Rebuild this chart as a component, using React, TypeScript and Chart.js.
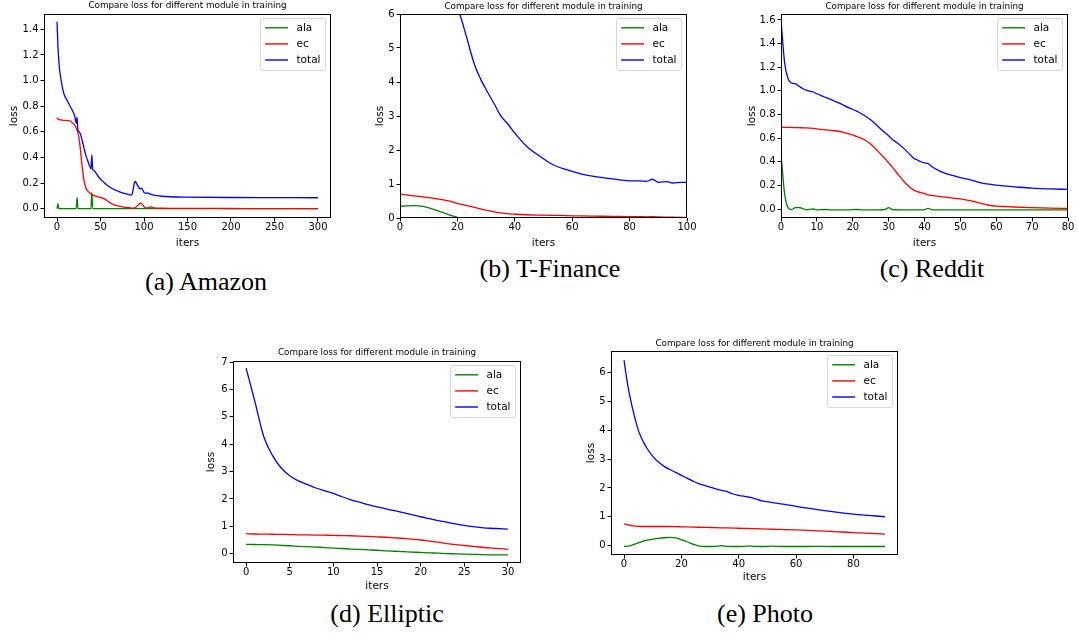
import React, { useEffect, useRef } from 'react';
import { Chart, registerables } from 'chart.js';

Chart.register(...registerables);
Chart.defaults.font.family = "'DejaVu Sans', sans-serif";
Chart.defaults.color = '#000';

// ---------- shared text ----------
const seriesNames = ['ala', 'ec', 'total'];
const seriesColors = ['#008000', '#ff0000', '#0000ff'];
const chartTitle = 'Compare loss for different module in training';
const xAxisLabel = 'iters';
const yAxisLabel = 'loss';
const captions = ['(a) Amazon', '(b) T-Finance', '(c) Reddit', '(d) Elliptic', '(e) Photo'];

// ---------- (a) Amazon ----------
const amazonIters = [0, 1, 2, 3, 5, 8, 12, 15, 17, 20, 21, 22, 23, 24, 25, 27, 29, 31, 33, 35, 37, 38, 39, 40, 41, 42, 44, 47, 50, 54, 58, 62, 66, 70, 75, 80, 85, 87, 88, 89, 90, 92, 94, 96, 97, 99, 100, 102, 104, 106, 108, 110, 115, 120, 130, 150, 200, 250, 300];
const amazonAla = [0, 0.04, 0, 0, 0, 0, 0, 0, 0, 0, 0, 0, 0.087, 0, 0, 0, 0, 0, 0, 0, 0, 0, 0, 0.126, 0, 0, 0, 0, 0, 0, 0, 0, 0, 0, 0, 0, 0, 0, 0, 0, 0, 0, 0, 0, 0, 0, 0, 0, 0, 0, 0, 0, 0, 0, 0, 0, 0, 0, 0];
const amazonEc = [0.71, 0.70, 0.695, 0.695, 0.693, 0.69, 0.688, 0.685, 0.675, 0.655, 0.645, 0.63, 0.615, 0.59, 0.56, 0.455, 0.32, 0.22, 0.165, 0.14, 0.125, 0.12, 0.115, 0.11, 0.106, 0.103, 0.098, 0.092, 0.087, 0.078, 0.06, 0.042, 0.03, 0.022, 0.014, 0.009, 0.005, 0.004, 0.004, 0.005, 0.008, 0.02, 0.035, 0.042, 0.04, 0.025, 0.015, 0.006, 0.005, 0.008, 0.016, 0.008, 0.004, 0.003, 0.002, 0.002, 0.001, 0, 0];
const amazonTotal = [1.46, 1.27, 1.16, 1.08, 0.99, 0.895, 0.84, 0.80, 0.775, 0.73, 0.70, 0.665, 0.715, 0.615, 0.605, 0.58, 0.53, 0.475, 0.42, 0.38, 0.34, 0.325, 0.31, 0.42, 0.305, 0.30, 0.285, 0.255, 0.23, 0.205, 0.18, 0.163, 0.148, 0.137, 0.124, 0.115, 0.106, 0.13, 0.17, 0.20, 0.212, 0.19, 0.165, 0.155, 0.16, 0.14, 0.127, 0.12, 0.123, 0.117, 0.112, 0.108, 0.101, 0.097, 0.093, 0.09, 0.087, 0.086, 0.085];
const amazonXTicks = [0, 50, 100, 150, 200, 250, 300];
const amazonYTicks = [0, 0.2, 0.4, 0.6, 0.8, 1.0, 1.2, 1.4];

// ---------- (b) T-Finance ----------
const tfinIters = [0, 2, 5, 8, 10, 13, 16, 18, 20, 21, 23, 26, 28, 30, 33, 35, 38, 40, 44, 49, 53, 58, 63, 67, 74, 79, 84, 86, 88, 90, 93, 95, 98, 100];
const tfinAla = [0.34, 0.355, 0.365, 0.345, 0.30, 0.22, 0.13, 0.07, 0.02, 0.005, 0, 0, 0, 0.01, 0.004, 0, 0, 0, 0, 0, 0, 0, 0, 0, 0, 0, 0, 0, 0, 0, 0, 0, 0, 0];
const tfinEc = [0.70, 0.68, 0.65, 0.62, 0.60, 0.56, 0.52, 0.48, 0.43, 0.41, 0.37, 0.31, 0.27, 0.23, 0.18, 0.15, 0.12, 0.11, 0.095, 0.085, 0.078, 0.07, 0.06, 0.055, 0.048, 0.042, 0.037, 0.035, 0.038, 0.03, 0.025, 0.022, 0.02, 0.02];
const tfinTotal = [14.0, 12.6, 10.9, 9.5, 8.7, 7.7, 6.95, 6.5, 6.15, 5.95, 5.38, 4.5, 4.1, 3.78, 3.33, 3.02, 2.72, 2.5, 2.12, 1.8, 1.58, 1.42, 1.3, 1.23, 1.15, 1.1, 1.09, 1.08, 1.14, 1.05, 1.07, 1.03, 1.05, 1.05];
const tfinXTicks = [0, 20, 40, 60, 80, 100];
const tfinYTicks = [0, 1, 2, 3, 4, 5, 6];

// ---------- (c) Reddit ----------
const redditIters = [0, 1, 2, 3, 4, 5, 6, 7, 9, 10, 12, 14, 17, 19, 21, 23, 25, 27, 29, 30, 31, 33, 35, 37, 38, 39, 40, 41, 42, 44, 46, 48, 50, 53, 56, 58, 60, 63, 65, 70, 75, 80];
const redditAla = [0.47, 0.13, 0.01, -0.005, 0.012, 0.013, 0.005, -0.006, 0.0, -0.007, -0.004, -0.008, -0.008, -0.007, -0.004, -0.008, -0.008, -0.008, -0.004, 0.012, -0.004, -0.008, -0.008, -0.008, -0.008, -0.008, -0.006, 0.006, -0.006, -0.008, -0.008, -0.008, -0.008, -0.008, -0.008, -0.008, -0.008, -0.008, -0.008, -0.008, -0.008, -0.008];
const redditEc = [0.69, 0.69, 0.69, 0.69, 0.688, 0.688, 0.687, 0.686, 0.682, 0.678, 0.672, 0.665, 0.652, 0.635, 0.615, 0.59, 0.55, 0.49, 0.425, 0.39, 0.355, 0.28, 0.21, 0.16, 0.148, 0.138, 0.13, 0.12, 0.115, 0.107, 0.10, 0.092, 0.085, 0.068, 0.045, 0.032, 0.025, 0.02, 0.017, 0.012, 0.008, 0.005];
const redditTotal = [1.6, 1.24, 1.10, 1.065, 1.06, 1.04, 1.02, 1.005, 0.99, 0.975, 0.95, 0.925, 0.885, 0.855, 0.83, 0.795, 0.755, 0.70, 0.645, 0.62, 0.59, 0.545, 0.49, 0.43, 0.415, 0.40, 0.39, 0.385, 0.36, 0.325, 0.30, 0.283, 0.265, 0.245, 0.22, 0.21, 0.203, 0.193, 0.188, 0.176, 0.17, 0.166];
const redditXTicks = [0, 10, 20, 30, 40, 50, 60, 70, 80];
const redditYTicks = [0, 0.2, 0.4, 0.6, 0.8, 1.0, 1.2, 1.4, 1.6];

// ---------- (d) Elliptic ----------
const ellipticIters = [0, 1, 2, 3, 4, 5, 6, 7, 8, 9, 10, 11, 12, 13, 14, 15, 16, 17, 18, 19, 20, 21, 22, 23, 24, 25, 26, 27, 28, 29, 30];
const ellipticAla = [0.34, 0.335, 0.33, 0.32, 0.305, 0.29, 0.27, 0.255, 0.24, 0.225, 0.205, 0.19, 0.17, 0.155, 0.14, 0.125, 0.105, 0.09, 0.075, 0.06, 0.045, 0.03, 0.02, 0.005, -0.005, -0.015, -0.025, -0.035, -0.04, -0.04, -0.04];
const ellipticEc = [0.73, 0.72, 0.715, 0.71, 0.705, 0.70, 0.69, 0.685, 0.68, 0.675, 0.67, 0.66, 0.655, 0.645, 0.63, 0.615, 0.60, 0.58, 0.56, 0.53, 0.50, 0.46, 0.42, 0.37, 0.33, 0.30, 0.27, 0.235, 0.21, 0.185, 0.16];
const ellipticTotal = [6.78, 5.57, 4.3, 3.6, 3.14, 2.85, 2.66, 2.53, 2.40, 2.30, 2.20, 2.08, 1.97, 1.88, 1.79, 1.71, 1.64, 1.57, 1.50, 1.43, 1.35, 1.28, 1.21, 1.15, 1.09, 1.035, 0.99, 0.955, 0.93, 0.915, 0.90];
const ellipticXTicks = [0, 5, 10, 15, 20, 25, 30];
const ellipticYTicks = [0, 1, 2, 3, 4, 5, 6, 7];

// ---------- (e) Photo ----------
const photoIters = [0, 1, 2, 3, 4, 5, 6, 7, 8, 10, 12, 14, 16, 18, 20, 22, 24, 26, 27, 28, 30, 32, 34, 36, 38, 40, 43, 44, 45, 48, 52, 53, 56, 60, 64, 68, 72, 76, 80, 84, 88, 91];
const photoAla = [-0.03, -0.03, -0.015, 0.02, 0.06, 0.095, 0.13, 0.16, 0.185, 0.22, 0.25, 0.27, 0.28, 0.265, 0.205, 0.13, 0.045, -0.015, -0.03, -0.035, -0.035, -0.03, -0.005, -0.03, -0.035, -0.035, -0.025, -0.015, -0.03, -0.035, -0.025, -0.03, -0.035, -0.035, -0.035, -0.03, -0.035, -0.035, -0.035, -0.035, -0.035, -0.035];
const photoEc = [0.75, 0.73, 0.705, 0.69, 0.675, 0.665, 0.66, 0.66, 0.66, 0.66, 0.66, 0.66, 0.66, 0.655, 0.65, 0.645, 0.64, 0.635, 0.632, 0.63, 0.625, 0.62, 0.615, 0.61, 0.605, 0.60, 0.592, 0.59, 0.587, 0.578, 0.565, 0.562, 0.553, 0.54, 0.525, 0.508, 0.49, 0.47, 0.45, 0.43, 0.41, 0.395];
const photoTotal = [6.44, 5.75, 5.2, 4.75, 4.35, 4.0, 3.75, 3.55, 3.38, 3.1, 2.9, 2.75, 2.64, 2.54, 2.44, 2.34, 2.24, 2.15, 2.12, 2.09, 2.03, 1.97, 1.92, 1.87, 1.79, 1.745, 1.69, 1.67, 1.65, 1.555, 1.49, 1.47, 1.43, 1.36, 1.30, 1.24, 1.185, 1.135, 1.09, 1.055, 1.025, 1.0];
const photoXTicks = [0, 20, 40, 60, 80];
const photoYTicks = [0, 1, 2, 3, 4, 5, 6];

// ---------- layout (positions / styles) ----------
type Box = { l: number; t: number; r: number; b: number };
type PanelSpec = {
  iters: number[]; ala: number[]; ec: number[]; total: number[];
  xTicks: number[]; yTicks: number[]; yDecimals: number;
  xMin: number; xMax: number; yMin: number; yMax: number;
  box: Box; titleGap: number; yLabelGap: number; xLabelGap: number;
  caption: string; capX: number; capBase: number;
};

const panels: PanelSpec[] = [
  { iters: amazonIters, ala: amazonAla, ec: amazonEc, total: amazonTotal, xTicks: amazonXTicks, yTicks: amazonYTicks, yDecimals: 1,
    xMin: -15, xMax: 315, yMin: -0.073, yMax: 1.52, box: { l: 44, t: 14, r: 331, b: 218 }, titleGap: 8, yLabelGap: 30, xLabelGap: 25.5,
    caption: captions[0], capX: 206, capBase: 291 },
  { iters: tfinIters, ala: tfinAla, ec: tfinEc, total: tfinTotal, xTicks: tfinXTicks, yTicks: tfinYTicks, yDecimals: 0,
    xMin: 0, xMax: 100, yMin: 0, yMax: 6, box: { l: 400, t: 14, r: 687, b: 218 }, titleGap: 7.3, yLabelGap: 20, xLabelGap: 25,
    caption: captions[1], capX: 550, capBase: 278 },
  { iters: redditIters, ala: redditAla, ec: redditEc, total: redditTotal, xTicks: redditXTicks, yTicks: redditYTicks, yDecimals: 1,
    xMin: 0, xMax: 80, yMin: -0.076, yMax: 1.65, box: { l: 781, t: 14, r: 1068, b: 218 }, titleGap: 7.3, yLabelGap: 29, xLabelGap: 25,
    caption: captions[2], capX: 932, capBase: 278 },
  { iters: ellipticIters, ala: ellipticAla, ec: ellipticEc, total: ellipticTotal, xTicks: ellipticXTicks, yTicks: ellipticYTicks, yDecimals: 0,
    xMin: -1.5, xMax: 31.5, yMin: -0.34, yMax: 7.04, box: { l: 233, t: 361, r: 521, b: 563 }, titleGap: 8.7, yLabelGap: 21.6, xLabelGap: 23,
    caption: captions[3], capX: 387, capBase: 623 },
  { iters: photoIters, ala: photoAla, ec: photoEc, total: photoTotal, xTicks: photoXTicks, yTicks: photoYTicks, yDecimals: 0,
    xMin: -4.55, xMax: 95.55, yMin: -0.33, yMax: 6.76, box: { l: 611, t: 351, r: 898, b: 555 }, titleGap: 7, yLabelGap: 20, xLabelGap: 22,
    caption: captions[4], capX: 765, capBase: 623 },
];

const YW = 40;   // space left of axes box
const TH = 14;   // space above axes box (title)
const XH = 32;   // space below axes box
const RP = 20;   // space right of axes box
const TITLE_SIZE = 8.8;
const LABEL_SIZE = 10.5;
const TICK_SIZE = 10;
const CAPTION_SIZE = 26;
const TITLE_LH = TITLE_SIZE * 1.2;
const LABEL_LH = LABEL_SIZE * 1.2;

const framePlugin = {
  id: 'mplFrame',
  afterDatasetsDraw(chart: any) {
    const { ctx, chartArea: a } = chart;
    ctx.save();
    ctx.strokeStyle = '#000';
    ctx.lineWidth = 1;
    const l = Math.floor(a.left) + 0.5;
    const t = Math.floor(a.top) + 0.5;
    const r = Math.ceil(a.right) - 0.5;
    const b = Math.ceil(a.bottom) - 0.5;
    ctx.strokeRect(l, t, r - l, b - t);
    ctx.restore();
  },
};

const legendPlugin = {
  id: 'mplLegend',
  afterDraw(chart: any) {
    const { ctx, chartArea: a } = chart;
    const w = 65, h = 52, rad = 2.5;
    const x0 = a.right - 5.5 - w;
    const y0 = a.top + 4.5;
    ctx.save();
    ctx.beginPath();
    ctx.moveTo(x0 + rad, y0);
    ctx.lineTo(x0 + w - rad, y0);
    ctx.arcTo(x0 + w, y0, x0 + w, y0 + rad, rad);
    ctx.lineTo(x0 + w, y0 + h - rad);
    ctx.arcTo(x0 + w, y0 + h, x0 + w - rad, y0 + h, rad);
    ctx.lineTo(x0 + rad, y0 + h);
    ctx.arcTo(x0, y0 + h, x0, y0 + h - rad, rad);
    ctx.lineTo(x0, y0 + rad);
    ctx.arcTo(x0, y0, x0 + rad, y0, rad);
    ctx.closePath();
    ctx.fillStyle = 'rgba(255,255,255,0.8)';
    ctx.fill();
    ctx.strokeStyle = 'rgba(204,204,204,0.8)';
    ctx.lineWidth = 1;
    ctx.stroke();
    ctx.font = `${LABEL_SIZE}px 'DejaVu Sans', sans-serif`;
    ctx.textBaseline = 'middle';
    ctx.textAlign = 'left';
    seriesNames.forEach((name, i) => {
      const y = y0 + 9.3 + i * 16.1;
      ctx.strokeStyle = seriesColors[i];
      ctx.lineWidth = 1.4;
      ctx.beginPath();
      ctx.moveTo(x0 + 4.7, y);
      ctx.lineTo(x0 + 27.5, y);
      ctx.stroke();
      ctx.fillStyle = '#000';
      ctx.fillText(name, x0 + 36, y + 0.5);
    });
    ctx.restore();
  },
};

function PanelChart({ p }: { p: PanelSpec }) {
  const ref = useRef<HTMLCanvasElement>(null);
  const { box } = p;
  const w = YW + (box.r - box.l) + RP;
  const h = TH + (box.b - box.t) + XH;

  useEffect(() => {
    const mk = (ys: number[]) => p.iters.map((x, i) => ({ x, y: ys[i] }));
    const titlePadTop = TH - p.titleGap - TITLE_LH / 2;
    const fmt = (v: any) => Number(v).toFixed(p.yDecimals);
    const chart = new Chart(ref.current as HTMLCanvasElement, {
      type: 'line',
      data: {
        datasets: [
          { label: seriesNames[0], data: mk(p.ala), borderColor: seriesColors[0], order: 3 },
          { label: seriesNames[1], data: mk(p.ec), borderColor: seriesColors[1], order: 2 },
          { label: seriesNames[2], data: mk(p.total), borderColor: seriesColors[2], order: 1 },
        ],
      },
      options: {
        animation: false,
        responsive: false,
        maintainAspectRatio: false,
        devicePixelRatio: 1,
        events: [],
        layout: { padding: { left: 0, top: 0, bottom: 0, right: RP } },
        elements: {
          point: { radius: 0 },
          line: { borderWidth: 1.3, cubicInterpolationMode: 'monotone', fill: false },
        },
        plugins: {
          legend: { display: false },
          tooltip: { enabled: false },
          title: {
            display: true,
            text: chartTitle,
            fullSize: false,
            color: '#000',
            font: { size: TITLE_SIZE, lineHeight: 1.2, weight: 'normal' },
            padding: { top: titlePadTop, bottom: TH - TITLE_LH - titlePadTop },
          },
        },
        scales: {
          x: {
            type: 'linear',
            min: p.xMin,
            max: p.xMax,
            afterFit: (s: any) => { s.height = XH; },
            afterBuildTicks: (s: any) => { s.ticks = p.xTicks.map((v) => ({ value: v })); },
            ticks: {
              autoSkip: false, maxRotation: 0, minRotation: 0, padding: 0, color: '#000',
              font: { size: TICK_SIZE, lineHeight: 1.2 },
              callback: (v: any) => String(v),
            },
            grid: { display: true, drawOnChartArea: false, drawTicks: true, tickLength: 3.5, color: '#000', lineWidth: 1 },
            border: { display: false },
            title: {
              display: true, text: xAxisLabel, color: '#000',
              font: { size: LABEL_SIZE, lineHeight: 1.2 },
              padding: { top: 0, bottom: XH - p.xLabelGap - LABEL_LH / 2 },
            },
          },
          y: {
            type: 'linear',
            min: p.yMin,
            max: p.yMax,
            afterFit: (s: any) => { s.width = YW; },
            afterBuildTicks: (s: any) => { s.ticks = p.yTicks.map((v) => ({ value: v })); },
            ticks: {
              autoSkip: false, padding: 2, color: '#000',
              font: { size: TICK_SIZE, lineHeight: 1.2 },
              callback: fmt,
            },
            grid: { display: true, drawOnChartArea: false, drawTicks: true, tickLength: 3.5, color: '#000', lineWidth: 1 },
            border: { display: false },
            title: {
              display: true, text: yAxisLabel, color: '#000',
              font: { size: LABEL_SIZE, lineHeight: 1.2 },
              padding: { top: YW - p.yLabelGap - LABEL_LH / 2, bottom: 0 },
            },
          },
        },
      } as any,
      plugins: [framePlugin, legendPlugin],
    });
    return () => chart.destroy();
  }, [p]);

  return (
    <canvas
      ref={ref}
      width={w}
      height={h}
      style={{ position: 'absolute', left: box.l - YW, top: box.t - TH, width: w, height: h }}
    />
  );
}

function Caption({ text, x, base }: { text: string; x: number; base: number }) {
  // Liberation Serif: ascent 0.891em, descent 0.216em
  const baseOffset = (CAPTION_SIZE - 1.107 * CAPTION_SIZE) / 2 + 0.891 * CAPTION_SIZE;
  return (
    <div
      style={{
        position: 'absolute',
        left: x,
        top: base - baseOffset,
        fontFamily: "'Liberation Serif', 'Times New Roman', serif",
        fontSize: CAPTION_SIZE,
        lineHeight: `${CAPTION_SIZE}px`,
        whiteSpace: 'nowrap',
        color: '#000',
        transform: 'translateX(-50%)',
      }}
    >
      {text}
    </div>
  );
}

export default function App() {
  return (
    <div style={{ position: 'absolute', left: 0, top: 0, width: 1078, height: 634, overflow: 'hidden', background: '#fff' }}>
      {panels.map((p, i) => (
        <PanelChart key={i} p={p} />
      ))}
      {panels.map((p, i) => (
        <Caption key={'c' + i} text={p.caption} x={p.capX} base={p.capBase} />
      ))}
    </div>
  );
}
